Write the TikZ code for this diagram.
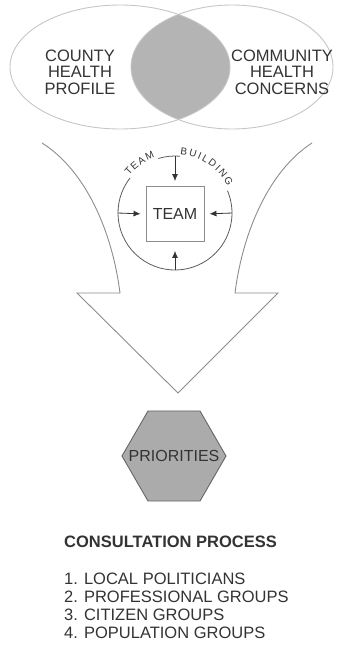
\documentclass[tikz,border=0pt]{standalone}
\usepackage{fontspec}
\setmainfont{Liberation Sans}
\usepackage{xcolor}
\usetikzlibrary{shapes.geometric,arrows.meta,decorations.text}
\definecolor{inkgray}{HTML}{333333}
\definecolor{lensgray}{HTML}{B4B4B4}
\definecolor{hexgray}{HTML}{ABABAB}
\definecolor{linegray}{HTML}{8C8C8C}
\newcommand{\arcfont}{\fontsize{10}{10}\selectfont}

\begin{document}
\begin{tikzpicture}[x=1pt, y=1pt,
  blob/.style={ellipse, draw=gray!45, line width=0.9pt, inner sep=0pt},
  venntext/.style={align=center, font=\fontsize{16.5}{16.5}\selectfont, text=inkgray},
  teambox/.style={rectangle, draw=linegray, line width=0.9pt, minimum width=58pt,
                  minimum height=55pt, font=\fontsize{16}{16}\selectfont, text=inkgray},
  ring/.style={circle, minimum size=114pt, inner sep=0pt},
  feed/.style={draw=inkgray, line width=0.8pt, -{Latex[length=7pt,width=6pt]},
               shorten >=5pt},
  hexa/.style={regular polygon, regular polygon sides=6, minimum size=104pt,
               inner sep=0pt, fill=hexgray, draw=gray!80!black, line width=0.9pt},
  list/.style={align=left, anchor=west, inner sep=0pt,
               font=\fontsize{16.5}{18}\selectfont, text=inkgray},
]
  \useasboundingbox (0,0) rectangle (342,-645);

  % overlap of the two ellipses
  \begin{scope}
    \clip (120,-67) ellipse [x radius=110, y radius=62];
    \fill[lensgray] (232,-67) ellipse [x radius=101, y radius=62];
  \end{scope}
  \node[blob, minimum width=220pt, minimum height=124pt] (profile) at (120,-67) {};
  \node[blob, minimum width=202pt, minimum height=124pt] (concerns) at (232,-67) {};
  \node[venntext] (profiletext) at (80,-72) {COUNTY\\HEALTH\\PROFILE};
  \node[venntext] (concernstext) at (282,-72) {COMMUNITY\\HEALTH\\CONCERNS};

  % funnel arrow
  \draw[linegray, line width=0.9pt] (42,-143) .. controls (85,-170) and (112,-230) .. (120,-293)
    -- (77,-293) -- (178,-393) -- (278,-293) -- (235,-293)
    .. controls (243,-230) and (270,-170) .. (312,-143);

  % team building circle
  \node[ring] (circ) at (175,-213) {};
  \node[teambox] (team) at (175,-214) {TEAM};
  \draw[inkgray!80, line width=0.8pt] ([shift={(142:57)}]circ.center)
    arc[start angle=142, end angle=383, radius=57];
  \draw[inkgray!80, line width=0.8pt] ([shift={(107:57)}]circ.center)
    arc[start angle=107, end angle=85, radius=57];
  \path[decorate, decoration={text along path, text align=fit to path,
        text={|\arcfont\color{inkgray}|TEAM}}]
    ([shift={(141:59)}]circ.center) arc[start angle=141, end angle=110, radius=59];
  \path[decorate, decoration={text along path, text align=fit to path,
        text={|\arcfont\color{inkgray}|BUILDING}}]
    ([shift={(85:59)}]circ.center) arc[start angle=85, end angle=27, radius=59];
  \draw[feed] (circ.north) -- (team.north);
  \draw[feed] (circ.west) -- (team.west);
  \draw[feed] (circ.east) -- (team.east);
  \draw[feed, shorten >=9pt] (circ.south) -- (team.south);

  % priorities
  \node[hexa, label={[font=\fontsize{16}{16}\selectfont, text=inkgray]center:PRIORITIES}]
    (prio) at (174,-456) {};

  % consultation list
  \node[list, font=\fontsize{16.5}{18}\selectfont\bfseries] (consult) at (64,-542)
    {CONSULTATION PROCESS};
  \node[list] (groups) at (64,-606)
    {1. LOCAL POLITICIANS\\2. PROFESSIONAL GROUPS\\3. CITIZEN GROUPS\\4. POPULATION GROUPS};
\end{tikzpicture}
\end{document}
